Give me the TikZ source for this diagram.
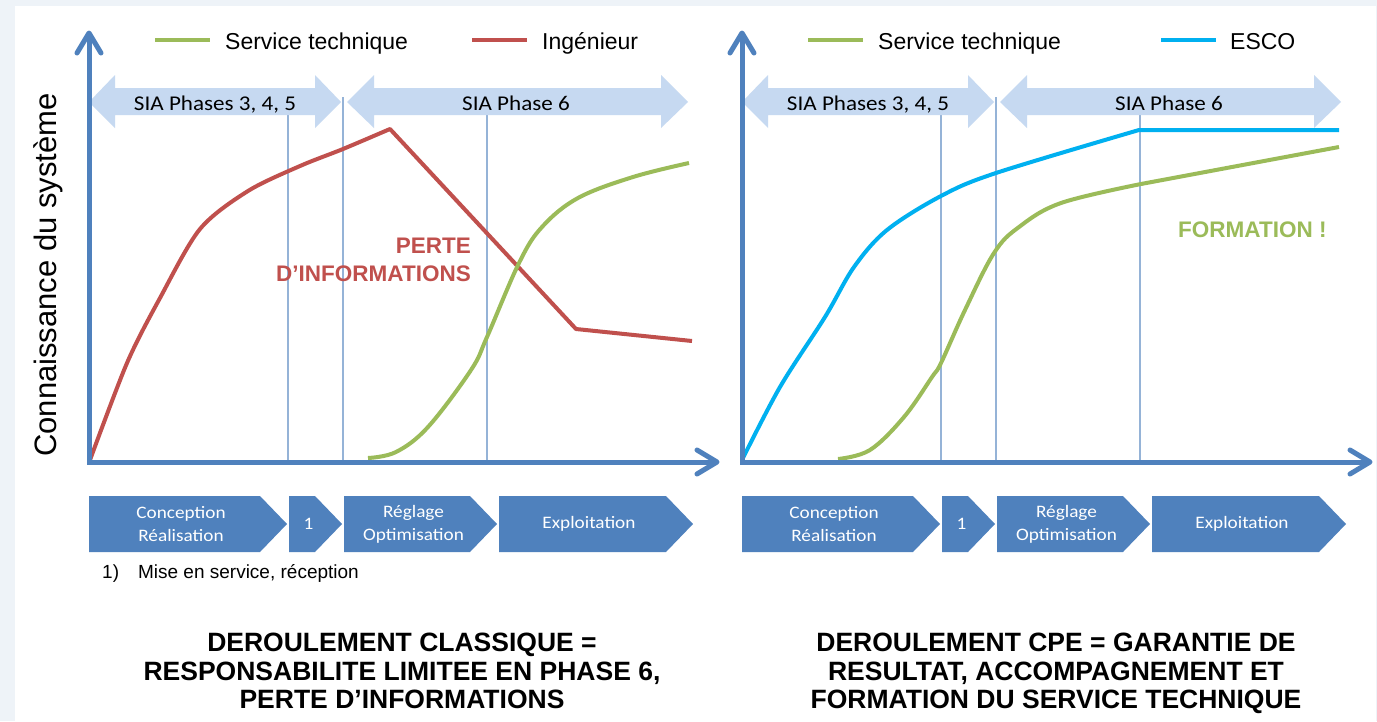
\documentclass[tikz,border=0pt]{standalone}
\usepackage{fontspec}
\setmainfont{Liberation Sans}
\newfontfamily\calib[FakeStretch=1.1]{Carlito}
\usetikzlibrary{calc}
\definecolor{axisblue}{HTML}{4F81BD}
\definecolor{phasefill}{HTML}{C6D9F1}
\definecolor{gridblue}{HTML}{95B3D7}
\definecolor{redc}{HTML}{C0504D}
\definecolor{greenc}{HTML}{9BBB59}
\definecolor{escoc}{HTML}{00B0F0}
\definecolor{bgc}{HTML}{EEF3F8}
\newcommand\phasearrowpath[4]{%
  \fill[phasefill] (#1,102) -- (#2,75) -- (#2,88) -- (#3,88) -- (#3,75) -- (#4,102)
    -- (#3,128) -- (#3,115) -- (#2,115) -- (#2,128) -- cycle;}
\newcommand\stagepath[5]{%
  \fill[axisblue] (#2,496) -- (#3,496) -- (#4,524) -- (#3,552) -- (#2,552) -- cycle;
  \node[stagelabel] (#1) at ({(#2+#4)/2-7},524) {#5};}
\begin{document}
\begin{tikzpicture}[x=1pt,y=-1pt,
  axisline/.style={draw=axisblue,line width=5pt,line join=miter},
  axishead/.style={draw=axisblue,line width=5pt,line cap=round,line join=round},
  gridline/.style={draw=gridblue,line width=1.2pt},
  curve/.style={line width=4pt,line join=round},
  phaselabel/.style={font=\calib\fontsize{21}{25}\selectfont,inner sep=0pt,anchor=base},
  stagelabel/.style={font=\calib\fontsize{17.5}{23}\selectfont,text=white,align=center,inner sep=0pt},
  legendtext/.style={font=\fontsize{23}{27}\selectfont,inner sep=0pt,anchor=base west},
  legendline/.style={line width=4pt},
  alerttext/.style={font=\bfseries\fontsize{22.5}{28}\selectfont,inner sep=0pt},
  titletext/.style={font=\bfseries\fontsize{26.5}{28.5}\selectfont,align=center,inner sep=0pt,anchor=north},
]
\useasboundingbox (0,0) rectangle (1377,721);
\fill[bgc] (0,0) rectangle (1377,721);
\fill[white] (15,6) rectangle (1376,721);

\foreach \dx/\p in {0/L,653/R}{
  \begin{scope}[xshift=\dx pt]
    % vertical guide lines
    \draw[gridline] (288,97) -- (288,460);
    \draw[gridline] (343,97) -- (343,460);
    \draw[gridline] (487,97) -- (487,460);
    % phase arrows
    \phasearrowpath{89}{115}{315}{341}
    \phasearrowpath{347}{374}{661}{688}
    \node[phaselabel] (\p-pa) at (215,110) {SIA Phases 3, 4, 5};
    \node[phaselabel] (\p-pb) at (516,110) {SIA Phase 6};
  \end{scope}
}

% curves, left panel
\draw[curve,redc] plot[smooth,tension=0.5] coordinates {(90,460) (127,363) (160,298) (200,229) (248,191) (300,166) (343,149) (390,129)} -- (576,329) -- (692,341);
\draw[curve,greenc] plot[smooth,tension=0.6] coordinates {(368,458) (396,452) (428,427) (471,370) (487,337) (519,263) (542,227) (578,198) (633,177) (689,163)};
% curves, right panel
\draw[curve,escoc] plot[smooth,tension=0.55] coordinates {(742,460) (780,387) (825,317) (854,267) (887,230) (941,196) (996,173) (1139,130)} -- (1339,130);
\draw[curve,greenc] plot[smooth,tension=0.6] coordinates {(838,459) (870,450) (904,417) (932,377) (941,363) (965,310) (994,253) (1019,227) (1061,203) (1141,184)} -- (1339,147);

\foreach \dx/\p in {0/L,653/R}{
  \begin{scope}[xshift=\dx pt]
    % axes
    \coordinate (\p-yt) at (89,33);
    \coordinate (\p-o) at (89,462);
    \coordinate (\p-xt) at (717,462);
    \draw[axisline] (\p-yt) -- (\p-o) -- (\p-xt);
    \draw[axishead] (77,53) -- (\p-yt) -- (101,53);
    \draw[axishead] (697,450) -- (\p-xt) -- (697,474);
    % stage chevrons
    \stagepath{\p-s1}{89}{260}{287}{Conception\\Réalisation}
    \stagepath{\p-s2}{289}{315}{342}{1}
    \stagepath{\p-s3}{344}{470}{497}{Réglage\\Optimisation}
    \stagepath{\p-s4}{499}{666}{693}{Exploitation}
    % legend green
    \draw[legendline,greenc] (155,40) -- (210,40);
    \node[legendtext] (\p-lg) at (225,49) {Service technique};
  \end{scope}
}

% legends
\draw[legendline,redc] (472,40) -- (527,40);
\node[legendtext] (lr) at (542,49) {Ingénieur};
\draw[legendline,escoc] (1161,40) -- (1216,40);
\node[legendtext] (lb) at (1230,49) {ESCO};

% y label
\node[rotate=90,font=\fontsize{31}{34}\selectfont,inner sep=0pt] (ylab) at (48,275) {Connaissance du système};

% annotations
\node[alerttext,text=redc,anchor=base east] (perte1) at (471,253) {PERTE};
\node[alerttext,text=redc,anchor=base east] (perte2) at (471,281) {D’INFORMATIONS};
\node[alerttext,text=greenc,anchor=base west] (form) at (1178,237) {FORMATION !};

% footnote
\node[font=\fontsize{19}{22}\selectfont,inner sep=0pt,anchor=base west] (foot) at (102,578) {1)\hspace{19pt}Mise en service, réception};

% titles
\node[titletext] (tl) at (402,633) {DEROULEMENT CLASSIQUE =\\RESPONSABILITE LIMITEE EN PHASE 6,\\PERTE D’INFORMATIONS};
\node[titletext] (tr) at (1056,633) {DEROULEMENT CPE = GARANTIE DE\\RESULTAT, ACCOMPAGNEMENT ET\\FORMATION DU SERVICE TECHNIQUE};
\end{tikzpicture}
\end{document}
